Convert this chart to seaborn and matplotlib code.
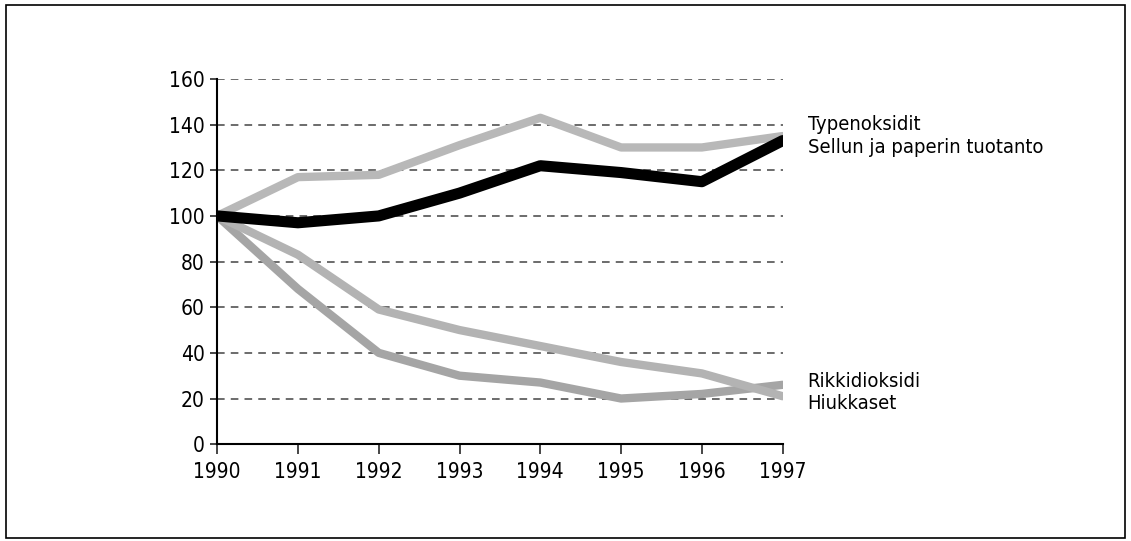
import pandas as pd
import seaborn as sns
import matplotlib.pyplot as plt
from matplotlib.patches import Rectangle

# data (index 1990 = 100)
years = [1990, 1991, 1992, 1993, 1994, 1995, 1996, 1997]
typenoksidit = [100, 117, 118, 131, 143, 130, 130, 135]
sellu = [100, 97, 100, 110, 122, 119, 115, 133]
rikkidioksidi = [100, 68, 40, 30, 27, 20, 22, 26]
hiukkaset = [100, 83, 59, 50, 43, 36, 31, 21]
y_ticks = [0, 20, 40, 60, 80, 100, 120, 140, 160]

df = pd.DataFrame({
    "vuosi": years * 4,
    "arvo": typenoksidit + rikkidioksidi + hiukkaset + sellu,
    "sarja": (["Typenoksidit"] * 8 + ["Rikkidioksidi"] * 8
              + ["Hiukkaset"] * 8 + ["Sellun ja paperin tuotanto"] * 8),
})

sns.set_style("white")
plt.rcParams["font.family"] = ["DejaVu Sans"]
plt.rcParams["font.stretch"] = "condensed"

fig = plt.figure(figsize=(11.31, 5.41), dpi=100)
ax = fig.add_axes([0.192, 0.179, 0.5, 0.675])

for y in y_ticks[1:]:
    ax.plot([1990, 1997], [y, y], ls=(0, (5, 4)), color="#444444", lw=1.1, zorder=1)

colors = {"Typenoksidit": "#b8b8b8", "Rikkidioksidi": "#a5a5a5",
          "Hiukkaset": "#b3b3b3", "Sellun ja paperin tuotanto": "#000000"}
widths = {"Typenoksidit": 6, "Rikkidioksidi": 6, "Hiukkaset": 6,
          "Sellun ja paperin tuotanto": 8}
for name, sub in df.groupby("sarja", sort=False):
    sns.lineplot(data=sub, x="vuosi", y="arvo", ax=ax, color=colors[name],
                 lw=widths[name], solid_capstyle="round", solid_joinstyle="round",
                 zorder=3 if name.startswith("Sellun") else 2, legend=False)

ax.set_xlim(1990, 1997)
ax.set_ylim(0, 160)
ax.set_xticks(years)
ax.set_yticks(y_ticks)
ax.tick_params(axis="x", direction="out", length=7, width=1.2, labelsize=15, pad=6,
               bottom=True, labelcolor="black")
ax.tick_params(axis="y", direction="out", length=5, width=1.2, labelsize=15, pad=4,
               left=True, labelcolor="black")
for s in ["top", "right"]:
    ax.spines[s].set_visible(False)
for s in ["left", "bottom"]:
    ax.spines[s].set_color("black")
    ax.spines[s].set_linewidth(1.5)
ax.set_xlabel("")
ax.set_ylabel("")

lx = 1.044
for txt, yv in [("Typenoksidit", 140), ("Sellun ja paperin tuotanto", 130),
                ("Rikkidioksidi", 27.5), ("Hiukkaset", 18)]:
    ax.text(lx, yv, txt, transform=ax.get_yaxis_transform(), fontsize=14.5,
            va="center", ha="left", color="black")

fig.patches.append(Rectangle((0.005, 0.005), 0.99, 0.985, transform=fig.transFigure,
                             fill=False, edgecolor="black", lw=1.2))

fig.savefig("out.png", dpi=100)
